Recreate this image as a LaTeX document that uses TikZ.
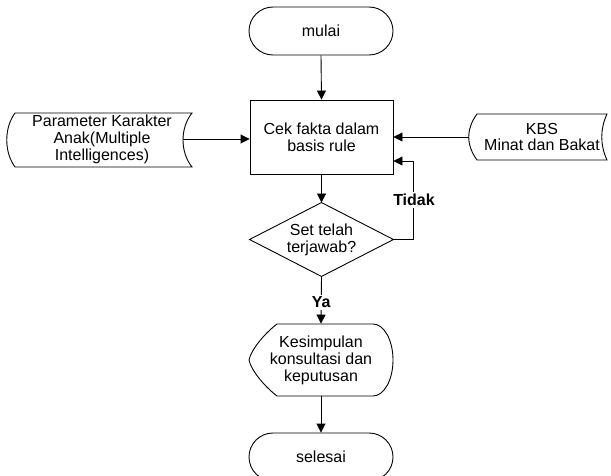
\documentclass[tikz,border=0pt]{standalone}
\usepackage{fontspec}
\setmainfont{Liberation Sans}
\usetikzlibrary{arrows.meta,calc}
\begin{document}
\begin{tikzpicture}[x=1pt,y=-1pt,
  line width=0.9pt,
  every node/.style={font=\fontsize{16}{17}\selectfont, align=center, inner sep=0pt},
  arr/.style={-{Triangle[length=9pt,width=9pt]}},
  term/.style={draw, rounded corners=24pt, minimum width=144pt, minimum height=48pt},
  procbox/.style={draw, minimum width=143pt, minimum height=74pt},
  lbl/.style={font=\fontsize{16}{17}\selectfont\bfseries, fill=white, inner sep=2pt}
]
\useasboundingbox[fill=white] (0,0) rectangle (611,476);

% nodes
\node[term] (mulai) at (321,31) {mulai};
\node[procbox] (box) at (321.5,137) {Cek fakta dalam\\basis rule};
\node[minimum width=143pt, minimum height=73pt] (dec) at (321.5,239.5) {Set telah\\terjawab?};
\node[minimum width=144pt, minimum height=72pt] (kes) at (321,360) {Kesimpulan\\konsultasi dan\\keputusan};
\node[term] (selesai) at (321,457) {selesai};
\node[minimum width=162pt, minimum height=54pt] (param) at (102,139) {Parameter Karakter\\Anak(Multiple\\Intelligences)};
\node[minimum width=146pt, minimum height=46pt, font=\fontsize{16}{16}\selectfont] (kbs) at (542,137) {KBS\\Minat dan Bakat};

% shapes drawn as outlines
\draw (dec.north) -- (dec.east) -- (dec.south) -- (dec.west) -- cycle;
\draw (277,324) -- (373,324) .. controls (384,324) and (393,340) .. (393,360)
      .. controls (393,380) and (384,396) .. (373,396) -- (277,396)
      .. controls (264,386) and (251,370) .. (249,360)
      .. controls (251,350) and (264,334) .. (277,324) -- cycle;
\draw (15,113) -- (192,113) .. controls (180,128) and (180,152) .. (192,167)
      -- (15,167) .. controls (4,152) and (4,128) .. (15,113) -- cycle;
\draw (477,114) -- (607,114) .. controls (600,129) and (600,145) .. (607,160)
      -- (477,160) .. controls (466,145) and (466,129) .. (477,114) -- cycle;

% connectors
\coordinate (loop) at (413,161);
\draw[arr] (mulai.south) -- (box.north);
\draw[arr] (param.east) -- (param.east -| box.west);
\draw[arr] (kbs.west) -- (kbs.west -| box.east);
\draw[arr] (box.south) -- (dec.north);
\draw[arr] (dec.south) -- node[lbl, pos=0.55] {Ya} (kes.north);
\draw[arr] (dec.east) -| node[lbl, pos=0.75, xshift=1pt] {Tidak} (loop) -- (loop -| box.east);
\draw[arr] (kes.south) -- (selesai.north);
\end{tikzpicture}
\end{document}
